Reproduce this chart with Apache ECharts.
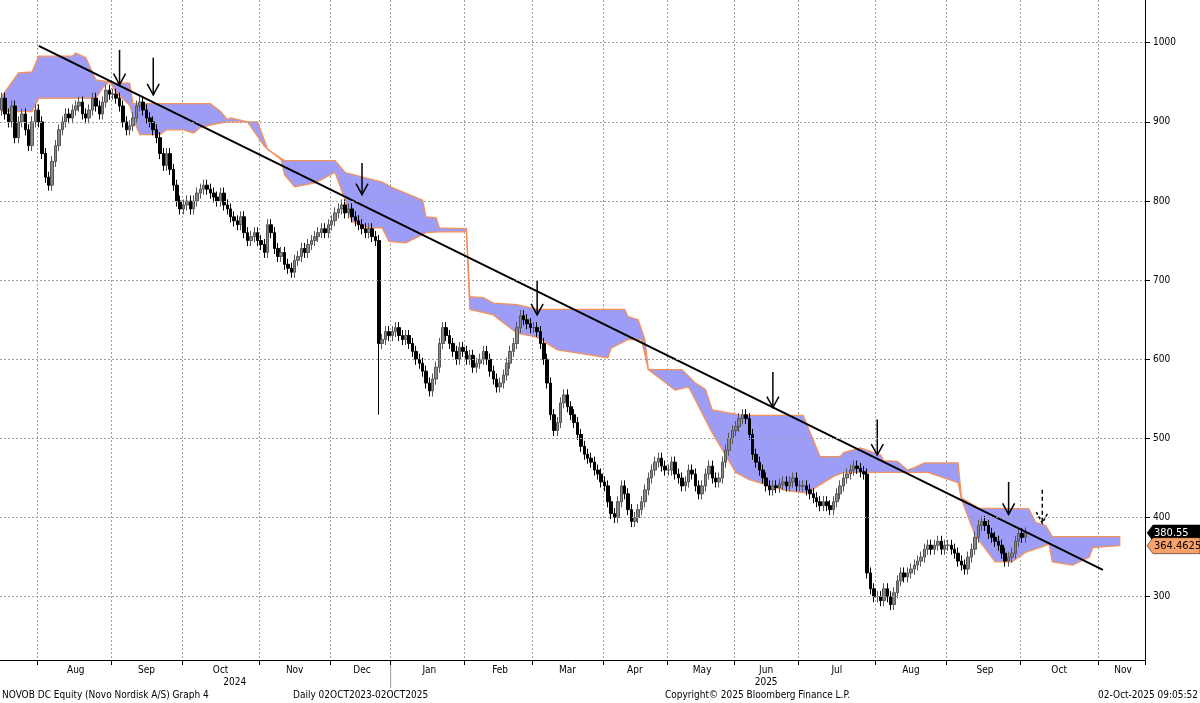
<!DOCTYPE html>
<html><head><meta charset="utf-8">
<script src="https://cdn.jsdelivr.net/npm/echarts@6/dist/echarts.min.js"></script>
<style>html,body{margin:0;padding:0;background:#fff}#c{width:1200px;height:703px}</style>
</head><body><div id="c"></div>
<script>
// ---- Daily closes per month ----
const close2024Jul = [930,910,900,920,880,900,910,890,870,900,915];
const close2024Aug = [900,860,830,820,850,870,890,900,910,905,915,920,925,910,905,915,930,920,910,925,940,935];
const close2024Sep = [935,930,920,900,890,895,905,920,925,915,905,900,890,880,860,845,860,840,820,800,790];
const close2024Oct = [795,800,790,800,810,815,820,815,810,805,800,810,795,790,780,775,770,780,760,750,755,760,750];
const close2024Nov = [745,735,770,760,740,730,735,720,715,710,725,730,740,735,745,750,755,760,765,760,770];
const close2024Dec = [775,785,790,795,785,790,780,775,770,765,760,765,755,750,620,625,635,630];
const close2025Jan = [635,640,630,625,630,620,610,600,595,585,570,560,575,590,620,640,630,620,610,600,615,610];
const close2025Feb = [600,605,590,595,600,610,600,585,575,565,570,580,595,610,620,640,655,650,645,640];
const close2025Mar = [640,635,620,600,570,530,510,520,545,555,540,530,520,505,490,480,475,470,460,455,445];
const close2025Apr = [440,420,405,400,420,440,430,410,395,400,410,420,435,450,460,470,475,465,460];
const close2025May = [460,470,455,450,440,445,460,455,440,430,440,455,465,450,445,450,470,485,500,510];
const close2025Jun = [515,525,530,525,505,480,470,460,450,440,435,440,438,442,445,440,445,450,440];
const close2025Jul = [440,440,435,430,425,420,415,420,415,410,420,430,440,450,455,460,465,462,458,455,330,310,300];
const close2025Aug = [300,295,310,300,290,305,320,330,325,330,335,340,345,350,360,365,360,365,370,360,365];
const close2025Sep = [365,360,355,345,340,335,350,360,375,390,395,390,380,375,370,365,355,345,350,355,370,380];
const close2025Oct = [375,380.55];
const firstOpen = 915;
const wickExtraLow = {112: 530};

// Ichimoku cloud edges: [trading-day index, value]
const cloudUpper = [[0,932],[4.5,962],[9.4,963],[11,983],[21,983],[22,987],[25,981],[27.7,953],[30.6,951],[32.6,949],[38,949],[39,923],[62,923],[65,913],[67,903],[68,905],[73,900],[76,900],[79,865],[84,851],[99,851],[102,836],[113,824],[116,817],[125,801],[125.5,780],[129,779],[130,766],[138,765],[139,679],[142.5,678],[145.5,671],[153,669],[159,663],[185,663],[186,654],[189,650],[190.5,625],[192,587],[202,587],[205.5,570],[208.6,562],[210.7,536],[219.6,529],[238,529],[242.7,477],[249,477],[250,482],[255,488],[260.5,479],[262,472],[266,471],[269,460],[270.6,463],[274,469],[284,469],[285,425],[290,412],[304.7,411],[306.5,394],[309.5,390],[311.6,376],[332,376],[332,364.5]];
const cloudLower = [[0,913],[9.4,913],[11,930],[27.7,930],[30,943],[31.7,951],[33.6,937],[38,921],[39.6,894],[40.5,884],[46.5,884],[49.4,890],[54.4,890],[57,886],[58.9,893],[63,897],[67,900],[73,900],[78,869],[83,852],[84,833],[87,818],[92.5,823],[99,836],[102,801],[104,774],[109,766],[113,766],[115,749],[119.6,747],[125.5,760],[130,761],[138,761],[139,663],[145.5,656],[153,633],[159,628],[165,612],[174,606],[180,602],[181,614],[186,625],[190,625],[192,587],[199.7,561],[204,565],[210.7,507],[217.5,457],[221.6,448],[231.5,435],[235,433],[239,431],[247,452],[250,457],[275,457],[284,444],[285,423],[289,378],[294.7,344],[300,344],[303.6,356],[310.6,366],[311.6,344],[317.5,340],[322.5,350],[323.5,362],[332,364.5]];
const trendLine = [[11,996],[327,334]];
const arrows = [[34.7,991,947],[44.5,981,934],[107,848,808],[159.4,699,656],[229,584,539],[260,524,479],[299,445,404]];
const dashedArrow = [308.6,435,393];
const yTicks = [300,400,500,600,700,800,900,1000];
const monthNames = ['Jan','Feb','Mar','Apr','May','Jun','Jul','Aug','Sep','Oct','Nov','Dec'];
const lastPrice = 380.55, cloudTag = 364.4625;

const holidays = new Set(['2024-12-24','2024-12-25','2024-12-26','2024-12-31','2025-01-01','2025-04-17','2025-04-18','2025-04-21','2025-05-29','2025-05-30','2025-06-05','2025-06-09']);
const dates = [];
let d = new Date(Date.UTC(2024,6,17));
while (dates.length < 340) {
  const s = d.toISOString().slice(0,10);
  const wd = d.getUTCDay();
  if (wd !== 0 && wd !== 6 && !holidays.has(s)) dates.push(s);
  d = new Date(d.getTime() + 86400000);
}
const closes = [].concat(close2024Jul,close2024Aug,close2024Sep,close2024Oct,close2024Nov,close2024Dec,close2025Jan,close2025Feb,close2025Mar,close2025Apr,close2025May,close2025Jun,close2025Jul,close2025Aug,close2025Sep,close2025Oct);
const ohlc = closes.map((c,i)=>{
  const o = i===0 ? firstOpen : closes[i-1];
  let lo = Math.min(o,c)-7, hi = Math.max(o,c)+7;
  if (wickExtraLow[i]) lo = wickExtraLow[i];
  return [o,c,lo,hi];
});
const monthStart = new Set(), monthMid = new Set();
const byMonth = {};
dates.forEach((s,i)=>{const k=s.slice(0,7); (byMonth[k]=byMonth[k]||[]).push(i);});
Object.keys(byMonth).forEach(k=>{const a=byMonth[k]; if(k!=='2024-07') monthStart.add(a[0]); if(k!=='2024-07' && a.length>15) monthMid.add(a[Math.floor(a.length/2)]);});
monthMid.add(byMonth['2025-11'][Math.min(7,byMonth['2025-11'].length-1)]);

const FONT = '"DejaVu Sans Condensed","Liberation Sans Narrow","Liberation Sans",sans-serif';
const chart = echarts.init(document.getElementById('c'));
chart.setOption({
  animation:false,
  grid:{left:0,right:55,top:0,bottom:43},
  xAxis:{type:'category',data:dates,boundaryGap:true,
    axisLine:{lineStyle:{color:'#000'}},
    axisTick:{show:true,interval:(i)=>monthStart.has(i),length:5,lineStyle:{color:'#000'}},
    splitLine:{show:true,interval:(i)=>monthStart.has(i),lineStyle:{color:'#a0a0a0',type:[2,2]}},
    axisLabel:{interval:(i)=>monthMid.has(i),formatter:(v)=>monthNames[+v.slice(5,7)-1],color:'#000',fontSize:10,fontFamily:FONT,margin:5}},
  yAxis:{type:'value',position:'right',min:220,max:1054,
    axisLine:{show:true,lineStyle:{color:'#000'}},
    axisTick:{show:true,customValues:yTicks,length:5,lineStyle:{color:'#000'}},
    axisLabel:{customValues:yTicks,formatter:(v)=>String(v),color:'#000',fontSize:10,fontFamily:FONT,margin:8},
    splitLine:{show:false}},
  series:[
    {type:'custom',z:1,data:[[0,500]],silent:true,clip:true,
      renderItem:(p,api)=>{
        const up=cloudUpper.map(q=>api.coord(q)), lo=cloudLower.map(q=>api.coord(q));
        return {type:'group',children:[
          {type:'polygon',shape:{points:up.concat(lo.slice().reverse())},style:{fill:'#9d9df7'}},
          {type:'polyline',shape:{points:up},style:{stroke:'#f5925a',lineWidth:1.3,fill:null}},
          {type:'polyline',shape:{points:lo},style:{stroke:'#f5925a',lineWidth:1.3,fill:null}}
        ]};
      },
      markLine:{silent:true,symbol:'none',label:{show:false},lineStyle:{color:'#a0a0a0',type:[2,2],width:1},data:yTicks.map(v=>({yAxis:v}))}
    },
    {type:'candlestick',z:3,data:ohlc,barMaxWidth:3,barMinWidth:3,
      itemStyle:{color:'#888',color0:'#000',borderColor:'#555',borderColor0:'#000',borderWidth:1}},
    {type:'custom',z:4,data:[[0,500]],silent:true,clip:false,
      renderItem:(p,api)=>{
        const ch=[];
        const a=api.coord(trendLine[0]), b=api.coord(trendLine[1]);
        ch.push({type:'line',shape:{x1:a[0],y1:a[1],x2:b[0],y2:b[1]},style:{stroke:'#000',lineWidth:2}});
        const arrow=(q,dashed)=>{
          const t=api.coord([q[0],q[1]]), h=api.coord([q[0],q[2]]);
          ch.push({type:'line',shape:{x1:t[0],y1:t[1],x2:h[0],y2:h[1]},style:{stroke:'#000',lineWidth:1.5,lineDash:dashed?[4,3]:null}});
          ch.push({type:'polyline',shape:{points:[[h[0]-6,h[1]-11],[h[0],h[1]],[h[0]+6,h[1]-11]]},style:{stroke:'#000',lineWidth:1.5,fill:null,lineDash:dashed?[3,2]:null}});
        };
        arrows.forEach(q=>arrow(q,false));
        arrow(dashedArrow,true);
        return {type:'group',children:ch};
      }}
  ]
});
const yp = v=>chart.convertToPixel({yAxisIndex:0},v);
const xp = i=>chart.convertToPixel({xAxisIndex:0},dates[i]);
const ax = 1145;
function tag(v,bg,fg,txt){
  const y=yp(v);
  return [{type:'polygon',shape:{points:[[ax+2,y],[ax+8,y-8],[1200,y-8],[1200,y+8],[ax+8,y+8]]},style:{fill:bg,stroke:'#000',lineWidth:0.5},z:100},
    {type:'text',x:ax+9,y:y,style:{text:txt,fill:fg,font:'11px '+FONT,textVerticalAlign:'middle'},z:101}];
}
const jan25 = dates.indexOf('2025-01-02');
const g = [].concat(tag(lastPrice,'#000','#fff','380.55'), tag(cloudTag,'#f7a26b','#000','364.4625'));
const sepX = (xp(jan25)+xp(jan25-1))/2;
g.push({type:'line',shape:{x1:sepX,y1:660,x2:sepX,y2:688},style:{stroke:'#999',lineWidth:1}});
g.push({type:'text',x:(xp(11)+sepX)/2+20,y:677,style:{text:'2024',font:'10px '+FONT,fill:'#000',textAlign:'center'}});
g.push({type:'text',x:xp(byMonth['2025-06'][9]),y:677,style:{text:'2025',font:'10px '+FONT,fill:'#000',textAlign:'center'}});
const fy=690;
g.push({type:'text',x:2,y:fy,style:{text:'NOVOB DC Equity (Novo Nordisk A/S) Graph 4',font:'10px '+FONT,fill:'#000'}});
g.push({type:'text',x:293,y:fy,style:{text:'Daily 02OCT2023-02OCT2025',font:'10px '+FONT,fill:'#000'}});
g.push({type:'text',x:665,y:fy,style:{text:'Copyright© 2025 Bloomberg Finance L.P.',font:'10px '+FONT,fill:'#000'}});
g.push({type:'text',x:1198,y:fy,style:{text:'02-Oct-2025 09:05:52',font:'10px '+FONT,fill:'#000',textAlign:'right'}});
chart.setOption({graphic:g});
</script></body></html>
